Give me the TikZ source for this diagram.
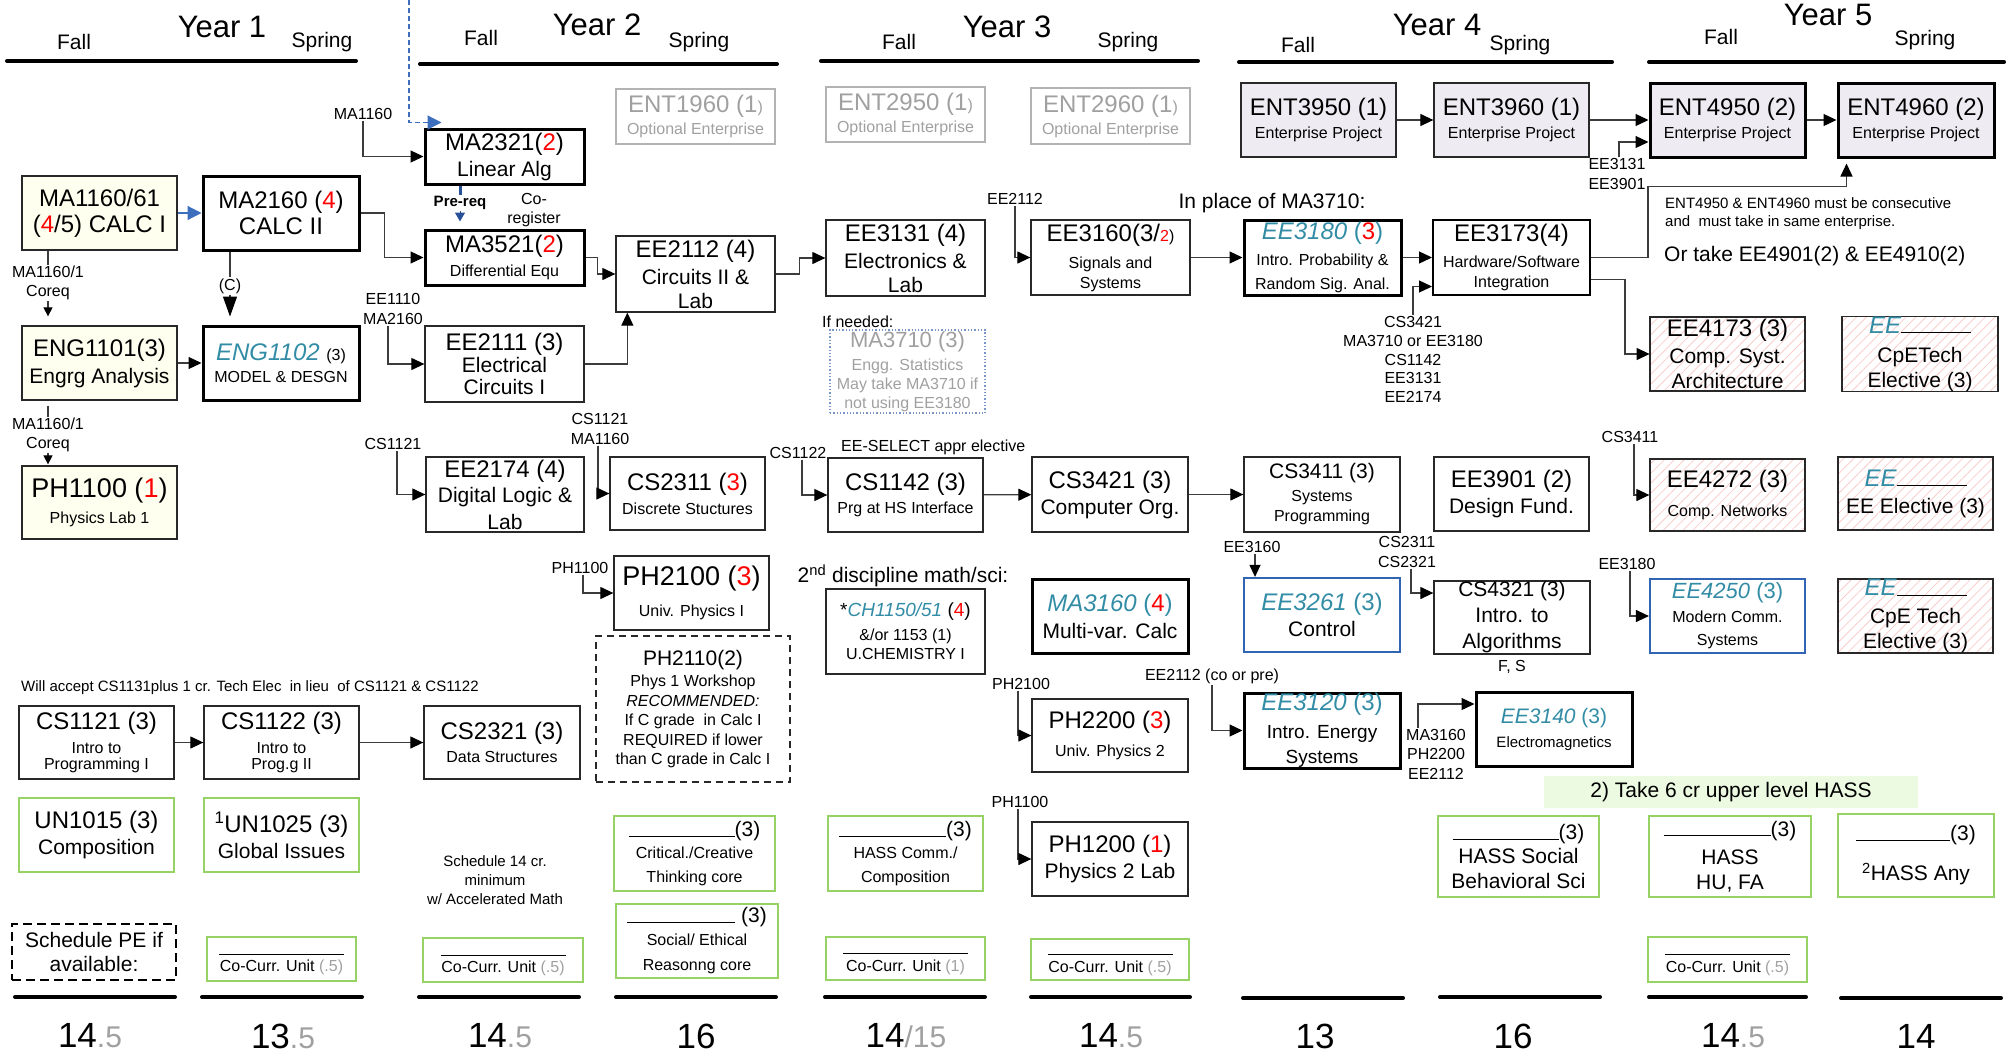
\documentclass[tikz,border=0pt]{standalone}
\usepackage{fontspec}
\setmainfont{Liberation Sans}
\usepackage{tikz}
\usetikzlibrary{arrows.meta, patterns.meta}

\definecolor{tealc}{RGB}{50,140,165}
\definecolor{optgray}{RGB}{160,160,160}
\definecolor{boxc}{RGB}{40,40,40}
\definecolor{conc}{RGB}{60,60,60}
\definecolor{yelfill}{RGB}{255,255,240}
\definecolor{entfill}{RGB}{238,236,242}
\definecolor{grnline}{RGB}{150,210,100}
\definecolor{bluline}{RGB}{50,100,180}
\definecolor{arrblue}{RGB}{60,110,190}
\definecolor{bluedark}{RGB}{40,80,150}
\definecolor{pinkln}{RGB}{250,205,205}
\definecolor{notegrn}{RGB}{236,250,226}
\definecolor{dotblue}{RGB}{120,150,200}

\newcommand{\cbig}[1]{{\fontsize{24}{26}\selectfont #1}}
\newcommand{\cmid}[1]{{\fontsize{21}{24}\selectfont #1}}
\newcommand{\cred}[1]{\textcolor{red}{#1}}
\newcommand{\ctl}[1]{\textcolor{tealc}{\itshape #1}}
\newcommand{\ctu}[1]{\textcolor{tealc}{#1}}
\newcommand{\cgy}[1]{\textcolor{optgray}{#1}}
\newcommand{\cblank}[1]{\rule{#1}{0.9pt}}
\newcommand{\chalf}[1]{{\fontsize{30}{32}\selectfont\color{optgray}#1}}
\newcommand{\ccline}{\rule[-12pt]{125pt}{0.9pt}}

\begin{document}
\begin{tikzpicture}[x=1pt, y=-1pt,
  crs/.style={draw=boxc, line width=1.3pt, minimum width=156, minimum height=74,
    inner sep=0pt, align=center, font=\fontsize{16}{26}\selectfont},
  thk/.style={crs, draw=black, line width=3pt},
  yel/.style={crs, fill=yelfill},
  opt/.style={crs, draw=optgray!80, text=optgray, minimum height=55},
  ent/.style={crs, fill=entfill},
  grn/.style={crs, draw=grnline},
  blu/.style={crs, draw=bluline, line width=2.2pt},
  hatch/.style={crs, pattern={Lines[angle=45,distance=7pt,line width=0.8pt]}, pattern color=pinkln},
  lbl/.style={font=\fontsize{16}{19.5}\selectfont, align=center, inner sep=1pt},
  note/.style={font=\fontsize{21}{24}\selectfont, inner sep=0pt},
  con/.style={draw=conc, line width=1.2pt},
  arr/.style={con, -{Triangle[length=13pt,width=12pt,color=black]}},
  stip/.style={con, -{Triangle[length=9pt,width=9pt,color=black]}},
  barr/.style={draw=arrblue, line width=1.2pt, -{Triangle[length=14pt,width=14pt]}},
  yr/.style={font=\fontsize{31}{34}\selectfont},
  sem/.style={font=\fontsize{21}{24}\selectfont},
  semline/.style={line width=4pt, line cap=round},
  tot/.style={font=\fontsize{35}{38}\selectfont}]
\useasboundingbox (0,0) rectangle (2009,1055);

% year headers
\node[yr] (y1) at (222,27) {Year 1};
\node[sem] (y1f) at (74,42) {Fall};
\node[sem] (y1s) at (322,42) {Spring};
\node[yr] (y2) at (597,25) {Year 2};
\node[sem] (y2f) at (481,38) {Fall};
\node[sem] (y2s) at (699,42) {Spring};
\node[yr] (y3) at (1007,27) {Year 3};
\node[sem] (y3f) at (899,42) {Fall};
\node[sem] (y3s) at (1128,42) {Spring};
\node[yr] (y4) at (1437,25) {Year 4};
\node[sem] (y4f) at (1298,45) {Fall};
\node[sem] (y4s) at (1520,45) {Spring};
\node[yr] (y5) at (1828,15) {Year 5};
\node[sem] (y5f) at (1721,37) {Fall};
\node[sem] (y5s) at (1925,40) {Spring};
\draw[semline] (7,61) -- (356,61);
\draw[semline] (420,64) -- (777,64);
\draw[semline] (821,61) -- (1198,61);
\draw[semline] (1239,62) -- (1612,62);
\draw[semline] (1649,62) -- (2004,62);

% Year 1
\node[yel, minimum width=155] (ma1160) at (99.5,213) {\cbig{MA1160/61}\\\cbig{(\cred{4}/5) CALC I}};
\node[thk] (ma2160) at (281,213) {\cbig{MA2160 (\cred{4})}\\\cbig{CALC II}};
\node[yel, minimum width=155] (eng1101) at (99.5,363) {\cbig{ENG1101(3)}\\[1pt]\cmid{Engrg Analysis}};
\node[thk] (eng1102) at (281,363) {\cbig{\ctl{ENG1102} {\fontsize{16}{18}\selectfont(3)}}\\[-4pt]MODEL \& DESGN};
\node[yel, minimum width=155, minimum height=73] (ph1100) at (99.5,502.5) {{\fontsize{27}{30}\selectfont PH1100 (\cred{1})}\\[0pt]Physics Lab 1};
\node[crs, minimum width=155, minimum height=73] (cs1121) at (96.5,742.5) {\cbig{CS1121 (3)}\\[-2pt]Intro to\\[-10pt]Programming I};
\node[crs, minimum width=155, minimum height=73] (cs1122) at (281.5,742.5) {\cbig{CS1122 (3)}\\[-2pt]Intro to\\[-10pt]Prog.g II};
\node[grn, minimum width=155] (un1015) at (96.5,835) {\cbig{UN1015 (3)}\\[0pt]\cmid{Composition}};
\node[grn, minimum width=155] (un1025) at (281.5,835) {\cbig{\textsuperscript{1}UN1025 (3)}\\[0pt]\cmid{Global Issues}};
\node[crs, draw=black, line width=2pt, dash pattern=on 9pt off 5pt, minimum width=164, minimum height=56] (pe) at (94,952) {\cmid{Schedule PE if}\\[-2pt]\cmid{available:}};
\node[grn, minimum width=149, minimum height=44] (cc1s) at (281.5,959) {\ccline\\[3pt]Co-Curr. Unit \cgy{(.5)}};

% Year 2
\node[thk, minimum width=159, minimum height=55] (ma2321) at (504.5,156.5) {\cbig{MA2321(\cred{2})}\\\cmid{Linear Alg}};
\node[thk, minimum width=159, minimum height=55] (ma3521) at (504.5,257.5) {\cbig{MA3521(\cred{2})}\\[-2pt]Differential Equ};
\node[crs, minimum width=159, minimum height=76] (ee2111) at (504.5,364) {\cbig{EE2111 (3)}\\[-4pt]\cmid{Electrical}\\[-4pt]\cmid{Circuits I}};
\node[crs, minimum width=158, minimum height=75] (ee2174) at (505,494.5) {\cbig{EE2174 (4)}\\[-1pt]\cmid{Digital Logic \&}\\[1pt]\cmid{Lab}};
\node[crs, minimum height=73] (cs2321) at (502,742.5) {\cbig{CS2321 (3)}\\[-3pt]Data Structures};
\node[grn, minimum width=160, minimum height=44] (cc2f) at (503,960) {\ccline\\[3pt]Co-Curr. Unit \cgy{(.5)}};
\node[opt, minimum width=159] (ent1960) at (695.5,116.5) {\cbig{ENT1960 (1{\fontsize{16}{18}\selectfont)}}\\[-4pt]Optional Enterprise};
\node[crs, minimum width=159, minimum height=76] (ee2112) at (695.5,274) {\cbig{EE2112 (4)}\\[1pt]\cmid{Circuits II \&}\\[-2pt]\cmid{Lab}};
\node[crs, minimum width=155, minimum height=73] (cs2311) at (687.5,493.5) {\cbig{CS2311 (\cred{3})}\\[-2pt]Discrete Stuctures};
\node[crs, minimum width=155] (ph2100) at (691.5,593) {{\fontsize{27}{30}\selectfont PH2100 (\cred{3})}\\[5pt]Univ. Physics I};
\node[crs, dash pattern=on 7pt off 5pt, minimum width=194, minimum height=146, font=\fontsize{16}{19.5}\selectfont] (ph2110) at (693,709) {\cmid{PH2110(2)}\\[2pt]Phys 1 Workshop\\\textit{RECOMMENDED:}\\If C grade\ \ in Calc I\\REQUIRED if lower\\than C grade in Calc I};
\node[grn, minimum width=161, minimum height=75] (crit) at (694.5,853.5) {\cmid{\cblank{106pt}(3)}\\[-4pt]Critical./Creative\\[-2pt]Thinking core};
\node[grn, minimum width=162] (social) at (697,941) {\cmid{\cblank{108pt} (3)}\\[-3pt]Social/ Ethical\\[-1pt]Reasonng core};

% Year 3
\node[opt, minimum width=159] (ent2950) at (905.5,114.5) {\cbig{ENT2950 (1{\fontsize{16}{18}\selectfont)}}\\[-4pt]Optional Enterprise};
\node[crs, minimum width=159, minimum height=76] (ee3131) at (905.5,258) {\cbig{EE3131 (4)}\\[1pt]\cmid{Electronics \&}\\[-2pt]\cmid{Lab}};
\node[crs, draw=dotblue, dotted, line width=1.2pt, text=optgray, minimum width=155, minimum height=83, font=\fontsize{16}{19}\selectfont] (ma3710) at (907.5,371.5) {{\fontsize{22}{24}\selectfont MA3710 (3)}\\[4pt]Engg. Statistics\\May take MA3710 if\\not using EE3180};
\node[crs, minimum width=155] (cs1142) at (905.5,495) {\cbig{CS1142 (3)}\\[-3pt]Prg at HS Interface};
\node[crs, minimum width=159, minimum height=85] (ch1150) at (905.5,631.5) {{\fontsize{19}{22}\selectfont *\ctl{CH1150/51} (\cred{4})}\\[-2pt]\&/or 1153 (1)\\[-7pt]U.CHEMISTRY I};
\node[grn, minimum width=155, minimum height=75] (hasscomm) at (905.5,853.5) {\cmid{\cblank{107pt}(3)}\\[-4pt]HASS Comm./\\[-2pt]Composition};
\node[grn, minimum width=159, minimum height=43] (cc3f) at (905.5,958.5) {\ccline\\[3pt]Co-Curr. Unit \cgy{(1)}};
\node[opt, minimum width=159, minimum height=56] (ent2960) at (1110.5,116) {\cbig{ENT2960 (1{\fontsize{16}{18}\selectfont)}}\\[-4pt]Optional Enterprise};
\node[crs, minimum width=159, minimum height=75] (ee3160) at (1110.5,257.5) {\cbig{EE3160(3/{\fontsize{16}{18}\selectfont\cred{2})}}\\[1pt]Signals and\\[-6pt]Systems};
\node[crs, minimum height=75] (cs3421) at (1110,494.5) {\cbig{CS3421 (3)}\\[0pt]\cmid{Computer Org.}};
\node[thk] (ma3160) at (1110,616) {\cbig{\ctl{MA3160} \ctu{(}\cred{4}\ctu{)}}\\[1pt]\cmid{Multi-var. Calc}};
\node[crs, minimum height=73] (ph2200) at (1110,735.5) {\cbig{PH2200 (\cred{3})}\\[2pt]Univ. Physics 2};
\node[crs] (ph1200) at (1110,859) {\cbig{PH1200 (\cred{1})}\\[0pt]\cmid{Physics 2 Lab}};
\node[grn, minimum width=158, minimum height=41] (cc3s) at (1110,959.5) {\ccline\\[3pt]Co-Curr. Unit \cgy{(.5)}};

% Year 4
\node[ent, minimum width=155] (ent3950) at (1318.5,120) {\cbig{ENT3950 (1)}\\[-3pt]Enterprise Project};
\node[thk, minimum width=157, minimum height=75] (ee3180) at (1322.5,257.5) {\cbig{\ctl{EE3180} \ctu{(}\cred{3}\ctu{)}}\\[0pt]Intro. Probability \&\\[-2pt]Random Sig. Anal.};
\node[crs, minimum height=75] (cs3411) at (1322,494.5) {{\fontsize{21}{24}\selectfont CS3411 (3)}\\[-3pt]Systems\\[-6pt]Programming};
\node[blu] (ee3261) at (1322,615) {\cbig{\ctl{EE3261} \ctu{(3)}}\\[0pt]\cmid{Control}};
\node[thk, minimum height=75] (ee3120) at (1322,730.5) {\cbig{\ctl{EE3120} \ctu{(3)}}\\[2pt]{\fontsize{19}{22}\selectfont Intro. Energy}\\[-1pt]{\fontsize{19}{22}\selectfont Systems}};
\node[ent, minimum width=155] (ent3960) at (1511.5,120) {\cbig{ENT3960 (1)}\\[-3pt]Enterprise Project};
\node[crs, draw=black, line width=2pt, minimum width=157, minimum height=75] (ee3173) at (1511.5,257.5) {\cbig{EE3173(4)}\\[0pt]Hardware/Software\\[-6pt]Integration};
\node[crs, minimum width=155] (ee3901) at (1511.5,494) {\cbig{EE3901 (2)}\\[0pt]\cmid{Design Fund.}};
\node[crs, minimum height=73] (cs4321) at (1512,617.5) {{\fontsize{21}{24}\selectfont CS4321 (3)}\\\cmid{Intro. to}\\\cmid{Algorithms}};
\node[thk] (ee3140) at (1554,729) {{\fontsize{21}{24}\selectfont\ctl{EE3140} \ctu{(3)}}\\[-2pt]{\fontsize{15}{18}\selectfont Electromagnetics}};
\node[grn, minimum width=161, minimum height=81] (hasssoc) at (1518.5,856.5) {\cmid{\cblank{106pt}(3)}\\[-2pt]\cmid{HASS Social}\\[-1pt]\cmid{Behavioral Sci}};

% Year 5
\node[ent, draw=black, line width=3pt, minimum width=155] (ent4950) at (1727.5,120) {\cbig{ENT4950 (2)}\\[-3pt]Enterprise Project};
\node[ent, draw=black, line width=3pt] (ent4960) at (1916,120) {\cbig{ENT4960 (2)}\\[-3pt]Enterprise Project};
\node[hatch, minimum width=155] (ee4173) at (1727.5,354) {\cbig{EE4173 (3)}\\[1pt]\cmid{Comp. Syst.}\\[-1pt]\cmid{Architecture}};
\node[hatch] (cpe1) at (1920,354) {\cbig{\ctl{EE}\cblank{70pt}}\\[3pt]\cmid{CpETech}\\[-1pt]\cmid{Elective (3)}};
\node[hatch, minimum width=155, minimum height=72] (ee4272) at (1727.5,495) {\cbig{EE4272 (3)}\\[3pt]Comp. Networks};
\node[hatch, minimum width=155, minimum height=73] (eeel) at (1915.5,493.5) {\cbig{\ctl{EE}\cblank{70pt}}\\[1pt]\cmid{EE Elective (3)}};
\node[blu, minimum width=155] (ee4250) at (1727.5,616) {{\fontsize{22}{24}\selectfont\ctl{EE4250} \ctu{(3)}}\\[-2pt]Modern Comm.\\[-3pt]Systems};
\node[hatch, minimum width=155] (cpe2) at (1915.5,616) {\cbig{\ctl{EE}\cblank{70pt}}\\[2pt]\cmid{CpE Tech}\\[-1pt]\cmid{Elective (3)}};
\node[note, fill=notegrn, minimum width=374, minimum height=32] (hassnote) at (1731,792) {2) Take 6 cr upper level HASS};
\node[grn, minimum width=162, minimum height=81] (hasshu) at (1730,856.5) {\cmid{\cblank{107pt}(3)}\\[2pt]\cmid{HASS}\\[-1pt]\cmid{HU, FA}};
\node[grn, minimum width=156, minimum height=83] (hassany) at (1916,855.5) {\cmid{\cblank{94pt}(3)}\\[14pt]\cmid{\textsuperscript{2}HASS Any}};
\node[grn, minimum width=159, minimum height=45] (cc5f) at (1727.5,959.5) {\ccline\\[3pt]Co-Curr. Unit \cgy{(.5)}};

% notes
\node[lbl] (l_ma2321) at (363,114) {MA1160};
\node[lbl, font=\bfseries\fontsize{15}{17}\selectfont] (prereq) at (460,203) {Pre-req};
\node[lbl] (coreg) at (534,210) {Co-\\register};
\node[lbl] (coreq1) at (48,283) {MA1160/1\\Coreq};
\node[lbl] (coreq2) at (48,435) {MA1160/1\\Coreq};
\node[lbl] (cnote) at (230,286) {(C)};
\node[lbl] (l_ee2111) at (393,309) {EE1110\\MA2160};
\node[lbl] (l_ee2174) at (393,444) {CS1121};
\node[lbl] (l_cs2311) at (600,429) {CS1121\\MA1160};
\node[lbl] (l_cs1142) at (798,453) {CS1122};
\node[lbl, anchor=west] (eesel) at (840,447) {EE-SELECT appr elective};
\node[lbl] (l_ph2100) at (580,568) {PH1100};
\node[lbl, anchor=west] (ifneed) at (821,322) {If needed:};
\node[lbl] (l_ee3160) at (1015,199) {EE2112};
\node[note] (inplace) at (1272,203) {In place of MA3710:};
\node[lbl, font=\fontsize{16}{18.75}\selectfont] (l_ee3173) at (1413,359.5) {CS3421\\MA3710 or EE3180\\CS1142\\EE3131\\EE2174};
\node[lbl] (l_ent4950) at (1617,174) {EE3131\\EE3901};
\node[lbl, anchor=west, align=left, font=\fontsize{15}{18}\selectfont] (consec) at (1664,214) {ENT4950 \& ENT4960 must be consecutive\\and\ \ must take in same enterprise.};
\node[note, anchor=west] (ortake) at (1664,256) {Or take EE4901(2) \& EE4910(2)};
\node[lbl] (l_ee4272) at (1630,437) {CS3411};
\node[lbl] (l_ee4250) at (1627,564) {EE3180};
\node[lbl] (l_ee3261) at (1252,547) {EE3160};
\node[lbl] (l_cs4321) at (1407,552) {CS2311\\CS2321};
\node[lbl] (fs) at (1512,667) {F, S};
\node[note] (disc) at (903,576) {2\textsuperscript{nd} discipline math/sci:};
\node[lbl] (l_ph2200) at (1021,684) {PH2100};
\node[lbl] (l_ee3120) at (1212,676) {EE2112 (co or pre)};
\node[lbl] (l_ee3140) at (1436,754) {MA3160\\PH2200\\EE2112};
\node[lbl] (l_ph1200) at (1020,802) {PH1100};
\node[lbl, anchor=west, font=\fontsize{15}{18}\selectfont] (accept) at (20,688) {Will accept CS1131plus 1 cr. Tech Elec\ \ in lieu\ \ of CS1121 \& CS1122};
\node[lbl, font=\fontsize{15}{19}\selectfont] (sched) at (495,880) {Schedule 14 cr.\\minimum\\w/ Accelerated Math};

% connectors
\coordinate (dtop) at (409,0);
\draw[barr, dash pattern=on 5pt off 3pt] (dtop) |- ([xshift=18pt,yshift=5pt]ma2321.north west);
\draw[barr] (ma1160) -- (ma2160);
\draw[arr] (ma2160.east) -- ++(24,0) |- (ma3521.west);
\draw[arr] (l_ma2321.south) |- (ma2321.west);
\draw[draw=bluedark, line width=3pt] (ma2321.south -| prereq) -- (prereq.north);
\draw[draw=bluedark, line width=1pt, -{Triangle[length=9pt,width=10pt]}] (prereq.south) -- ([yshift=7pt]ma3521.north -| prereq);
\draw[con] (ma1160.south -| coreq1) -- (coreq1.north);
\draw[stip] (coreq1.south) -- ([yshift=9pt]eng1101.north -| coreq1);
\draw[con] ([yshift=-5pt]eng1101.south -| coreq2) -- (coreq2.north);
\draw[stip] (coreq2.south) -- ([yshift=1pt]ph1100.north -| coreq2);
\draw[con] (ma2160.south -| cnote) -- (cnote.north);
\draw[con, -{Triangle[length=20pt,width=14pt,color=black]}] (cnote.south) -- ([yshift=8pt]eng1102.north -| cnote);
\draw[arr] (eng1101) -- (eng1102);
\draw[arr] ([xshift=-5pt]l_ee2111.south) |- (ee2111.west);
\draw[arr] ([xshift=4pt]l_ee2174.south) |- (ee2174.west);
\draw[arr] (ma3521.east) -- ++(12,0) |- (ee2112.west);
\draw[arr] (ee2111.east) -| ([xshift=12pt]ee2112.south west);
\draw[arr] (ee2112.east) -- ++(24,0) |- (ee3131.west);
\draw[arr] ([xshift=-2pt]l_cs2311.south) |- (cs2311.west);
\draw[arr] ([xshift=4pt]l_cs1142.south) |- (cs1142.west);
\draw[arr] ([xshift=3pt]l_ph2100.south) |- (ph2100.west);
\draw[arr] (cs1121) -- (cs1122);
\draw[arr] (cs1122) -- (cs2321);
\draw[arr] (l_ee3160.south) |- (ee3160.west);
\draw[arr] (ee3160) -- (ee3180);
\draw[arr] (ee3180) -- (ee3173);
\draw[arr] (l_ee3173.north) |- ([yshift=-29pt]ee3173.west);
\draw[arr] (cs1142) -- (cs3421);
\draw[arr] (cs3421) -- (cs3411);
\draw[stip, -{Triangle[length=12pt,width=11pt,color=black]}] ([xshift=3pt]l_ee3261.south) -- ([xshift=3pt]ee3261.north -| l_ee3261);
\draw[arr] ([xshift=4pt]l_cs4321.south) |- ([yshift=24.5pt]cs4321.west);
\draw[arr] ([xshift=-3pt]l_ph2200.south) |- (ph2200.west);
\draw[arr] (l_ee3120.south) |- (ee3120.west);
\draw[arr] ([xshift=-18pt]l_ee3140.north) |- ([yshift=25pt]ee3140.west);
\draw[arr] ([xshift=-2pt]l_ph1200.south) |- (ph1200.west);
\draw[arr] (ent3950) -- (ent3960);
\draw[arr] (ent3960) -- (ent4950);
\draw[arr] (ent4950) -- (ent4960);
\draw[arr] ([xshift=2pt]l_ent4950.north) |- ([yshift=-22pt]ent4950.west);
\draw[arr] (ee3173.east) -- ++(57,0) -- ++(0,-71) -| ([xshift=10pt,yshift=-5pt]ent4960.south west);
\draw[arr] ([yshift=-22pt]ee3173.east) -- ++(34,0) |- (ee4173.west);
\draw[arr] ([xshift=4pt]l_ee4272.south) |- (ee4272.west);
\draw[arr] ([xshift=3pt]l_ee4250.south) |- (ee4250.west);

% term totals
\draw[semline] (15,997) -- (175,997);
\draw[semline] (202,997) -- (362,997);
\draw[semline] (419,997) -- (579,997);
\draw[semline] (616,997) -- (776,997);
\draw[semline] (825,997) -- (985,997);
\draw[semline] (1031,997) -- (1190,997);
\draw[semline] (1243,998) -- (1403,998);
\draw[semline] (1440,997) -- (1600,997);
\draw[semline] (1649,997) -- (1806,997);
\draw[semline] (1841,998) -- (2001,998);
\node[tot] (t1f) at (90,1036) {14\chalf{.5}};
\node[tot] (t1s) at (283,1036) {13\chalf{.5}};
\node[tot] (t2f) at (500,1036) {14\chalf{.5}};
\node[tot] (t2s) at (696,1036) {16};
\node[tot] (t3f) at (906,1036) {14\chalf{/15}};
\node[tot] (t3s) at (1111,1036) {14\chalf{.5}};
\node[tot] (t4f) at (1315,1036) {13};
\node[tot] (t4s) at (1513,1036) {16};
\node[tot] (t5f) at (1733,1036) {14\chalf{.5}};
\node[tot] (t5s) at (1916,1036) {14};
\end{tikzpicture}
\end{document}
